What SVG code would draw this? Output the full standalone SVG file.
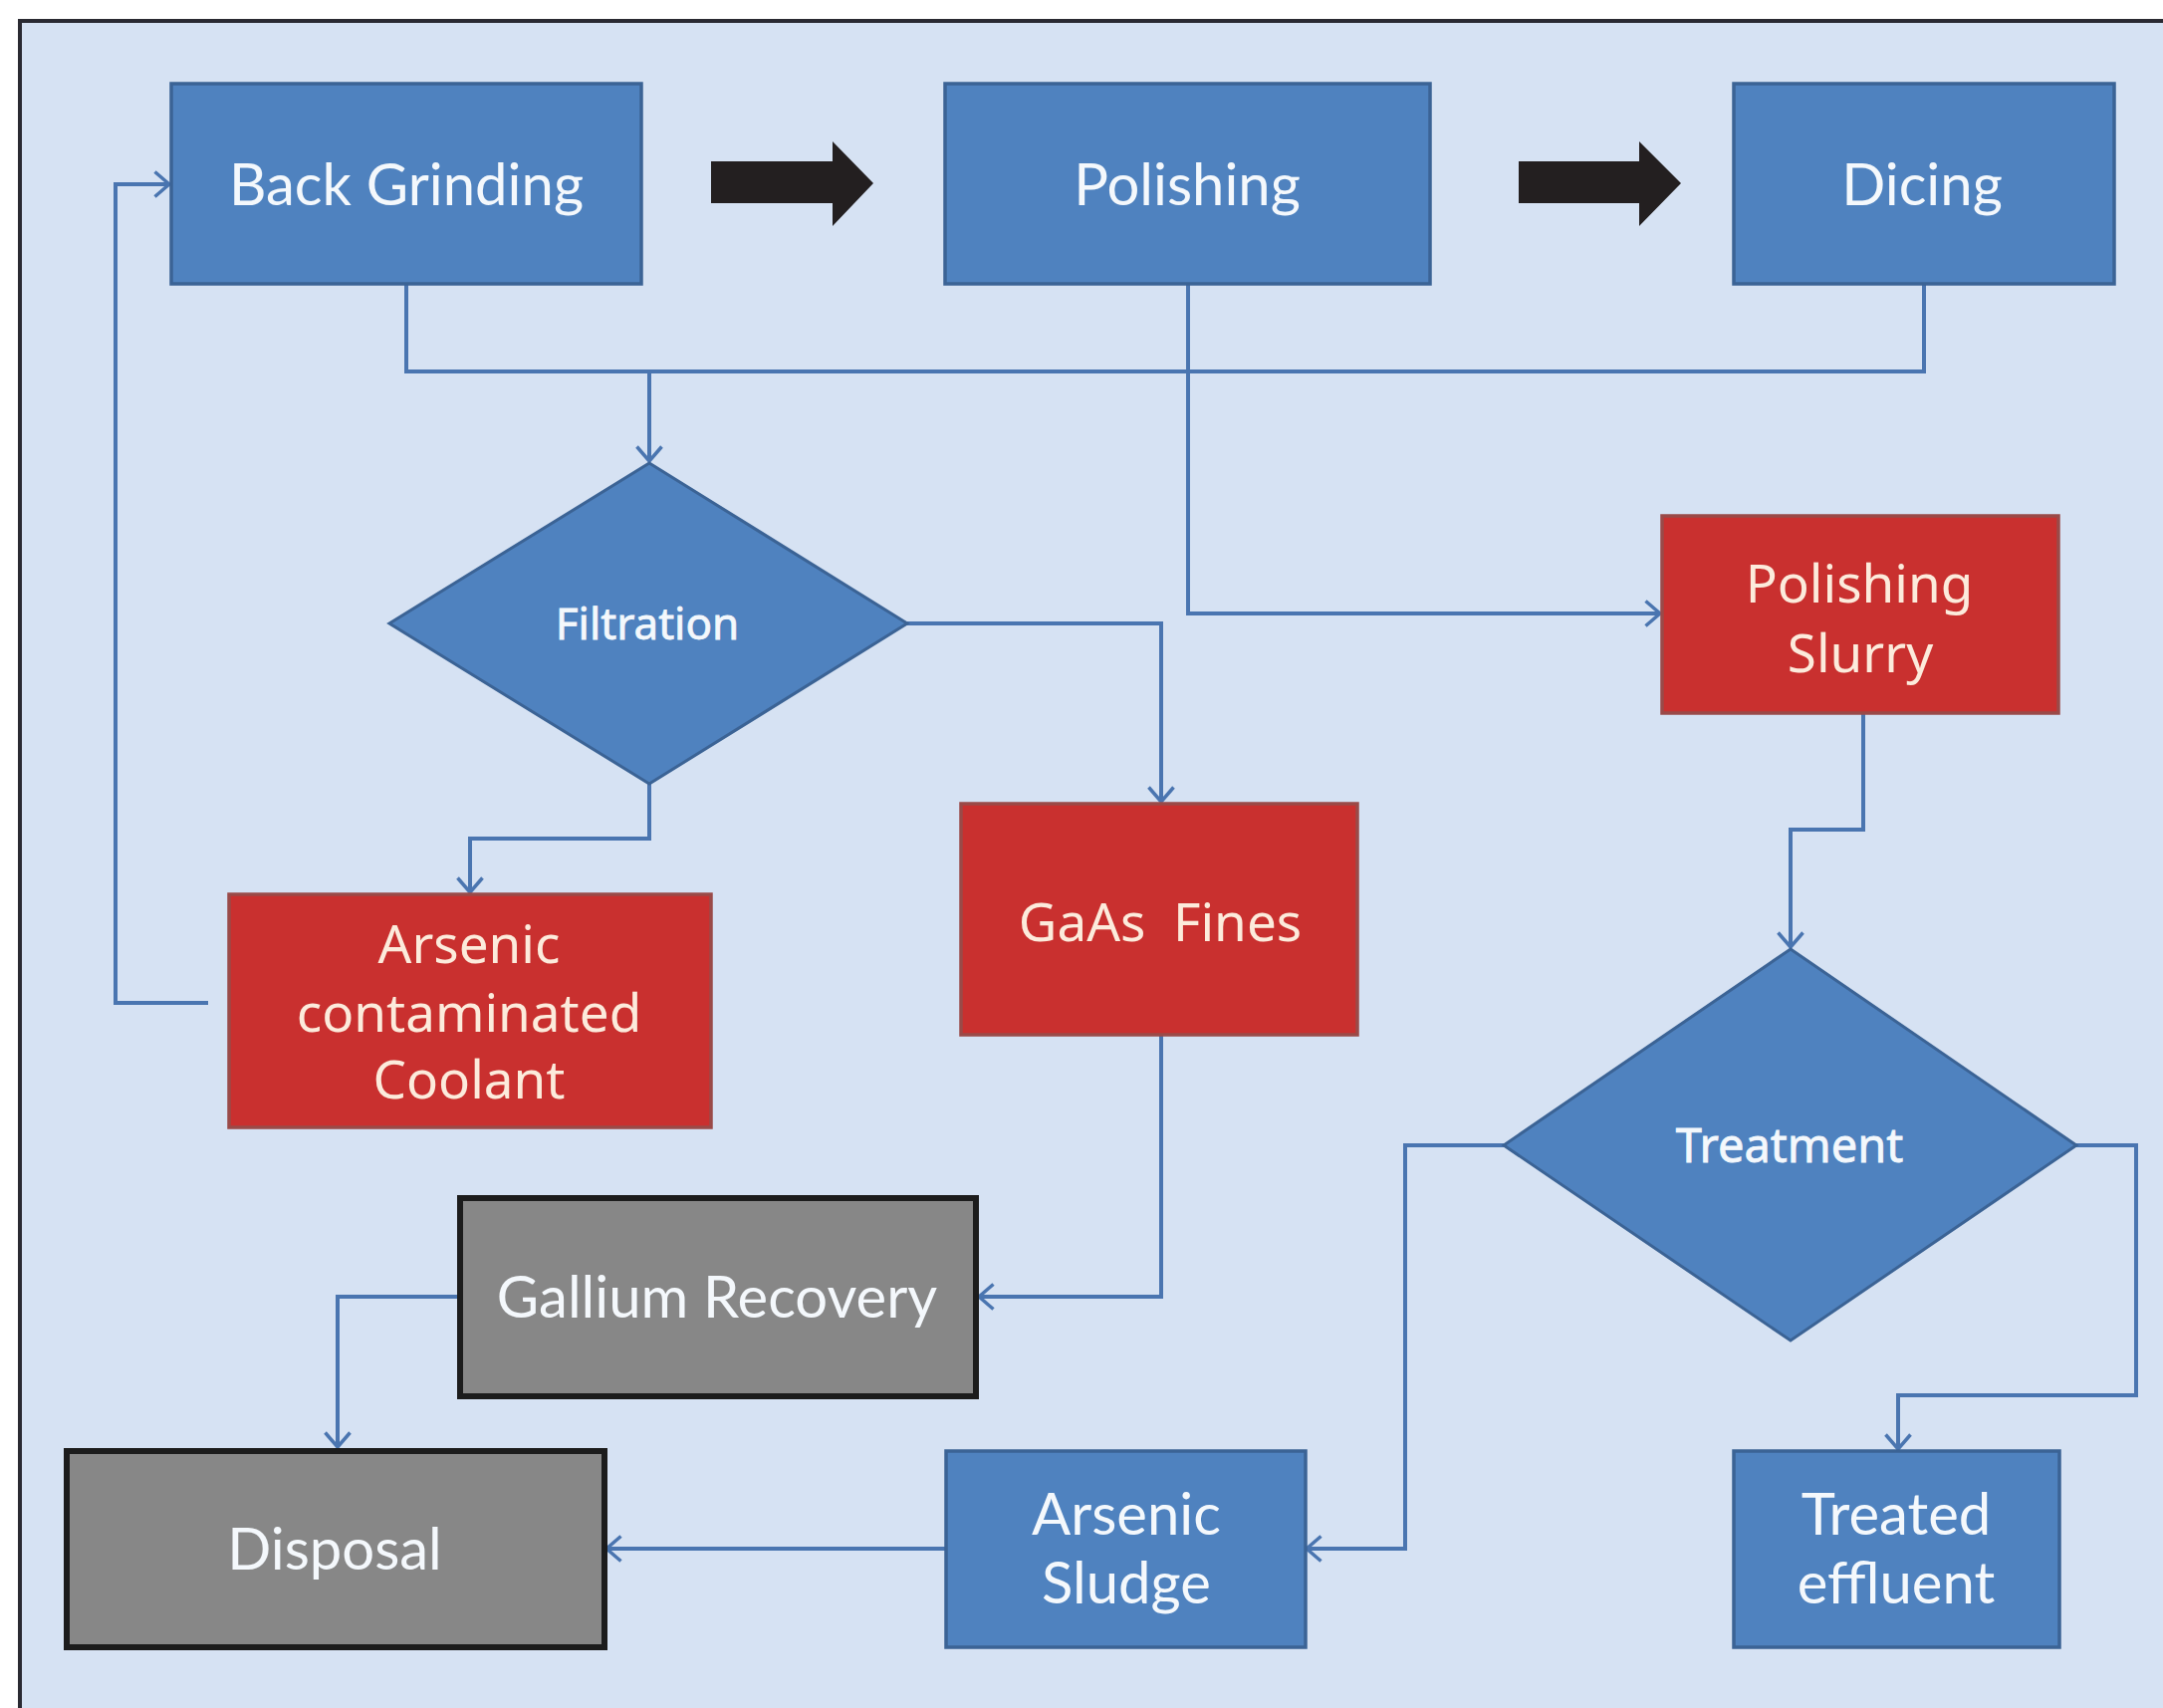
<svg xmlns="http://www.w3.org/2000/svg" width="2172" height="1715" viewBox="0 0 2172 1715">
<defs>
<style>
.bg{fill:#d6e2f3;stroke:#2a2a32;stroke-width:4}
.blue{fill:#4f82bf;stroke:#3b6395;stroke-width:3.5}
.red{fill:#c9302f;stroke:#9a4a48;stroke-width:3.5}
.gray{fill:#878787;stroke:#1c1c1c;stroke-width:6}
.dia{fill:#4f82bf;stroke:#3b6395;stroke-width:3}
.conn{fill:none;stroke:#4a75b0;stroke-width:4}
.big{fill:#231f20}
.tl{font-family:Lato,"Liberation Sans",sans-serif;font-size:58px;fill:#f4f8fc;text-anchor:middle}
.tn{font-family:"Noto Sans","Liberation Sans",sans-serif;font-size:53px;fill:#fcebdc;text-anchor:middle}
.td{font-family:"Noto Sans","Liberation Sans",sans-serif;fill:#f4f8fc;text-anchor:middle;stroke:#f4f8fc;stroke-width:0.8}
</style>
<marker id="ah" viewBox="0 0 18 28" refX="16" refY="14" markerWidth="18" markerHeight="28" markerUnits="userSpaceOnUse" orient="auto">
<path d="M1.5,1.5 L16,14 L1.5,26.5" fill="none" stroke="#4a75b0" stroke-width="3.5"/>
</marker>
</defs>
<rect x="0" y="0" width="2172" height="1715" fill="#ffffff"/>
<rect class="bg" x="20" y="21" width="2200" height="1750"/>

<g id="connectors">
<path class="conn" d="M408,285 V373 H652 V463" marker-end="url(#ah)"/>
<path class="conn" d="M1932,285 V373 H652"/>
<path class="conn" d="M1193,285 V616 H1667" marker-end="url(#ah)"/>
<path class="conn" d="M911,626 H1166 V805" marker-end="url(#ah)"/>
<path class="conn" d="M652,787 V842 H472 V896" marker-end="url(#ah)"/>
<path class="conn" d="M209,1007 H116 V185 H170" marker-end="url(#ah)"/>
<path class="conn" d="M1166,1039 V1302 H983" marker-end="url(#ah)"/>
<path class="conn" d="M461,1302 H339 V1453" marker-end="url(#ah)"/>
<path class="conn" d="M949,1555 H609" marker-end="url(#ah)"/>
<path class="conn" d="M1871,716 V833 H1798 V951" marker-end="url(#ah)"/>
<path class="conn" d="M1510,1150 H1411 V1555 H1312" marker-end="url(#ah)"/>
<path class="conn" d="M2085,1150 H2145 V1401 H1906 V1455" marker-end="url(#ah)"/>
<polygon class="big" points="714,162 836,162 836,142 877,184 836,227 836,204 714,204"/>
<polygon class="big" points="1525,162 1646,162 1646,142 1688,184 1646,227 1646,204 1525,204"/>
</g>

<g id="back-grinding">
<rect class="blue" x="172" y="84" width="472" height="201"/>
<text class="tl" x="408" y="206">Back Grinding</text>
</g>
<g id="polishing">
<rect class="blue" x="949" y="84" width="487" height="201"/>
<text class="tl" x="1192" y="206">Polishing</text>
</g>
<g id="dicing">
<rect class="blue" x="1741" y="84" width="382" height="201"/>
<text class="tl" x="1930" y="206">Dicing</text>
</g>
<g id="filtration">
<polygon class="dia" points="652,465 911,626 652,787 391,626"/>
<text class="td" x="650" y="642" font-size="44">Filtration</text>
</g>
<g id="polishing-slurry">
<rect class="red" x="1669" y="518" width="398" height="198"/>
<text class="tn" x="1867" y="605" font-size="52">Polishing</text>
<text class="tn" x="1868" y="675" font-size="52">Slurry</text>
</g>
<g id="arsenic-coolant">
<rect class="red" x="230" y="898" width="484" height="234"/>
<text class="tn" x="471" y="967">Arsenic</text>
<text class="tn" x="471" y="1036">contaminated</text>
<text class="tn" x="471" y="1103">Coolant</text>
</g>
<g id="gaas-fines">
<rect class="red" x="965" y="807" width="398" height="232"/>
<text class="tn" x="1165" y="945" font-size="54" xml:space="preserve">GaAs  Fines</text>
</g>
<g id="treatment">
<polygon class="dia" points="1798,953 2085,1150 1798,1346 1510,1150"/>
<text class="td" x="1797" y="1167" font-size="47">Treatment</text>
</g>
<g id="gallium-recovery">
<rect class="gray" x="462" y="1203" width="518" height="199"/>
<text class="tl" x="720" y="1323">Gallium Recovery</text>
</g>
<g id="disposal">
<rect class="gray" x="67" y="1457" width="540" height="197"/>
<text class="tl" x="336" y="1576">Disposal</text>
</g>
<g id="arsenic-sludge">
<rect class="blue" x="950" y="1457" width="361" height="197"/>
<text class="tl" x="1131" y="1541">Arsenic</text>
<text class="tl" x="1131" y="1610">Sludge</text>
</g>
<g id="treated-effluent">
<rect class="blue" x="1741" y="1457" width="327" height="197"/>
<text class="tl" x="1904" y="1541">Treated</text>
<text class="tl" x="1904" y="1610">effluent</text>
</g>
</svg>
